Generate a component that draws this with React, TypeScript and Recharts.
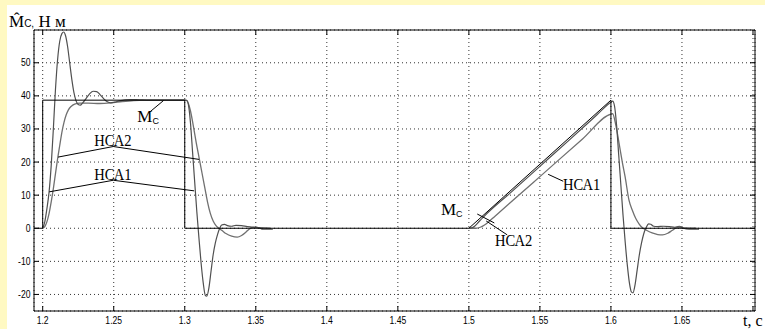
import { ComposedChart, Line, XAxis, YAxis, CartesianGrid, ReferenceLine, ReferenceDot } from "recharts";

// axis ticks
const xTicks = [1.2, 1.25, 1.3, 1.35, 1.4, 1.45, 1.5, 1.55, 1.6, 1.65, 1.7];
const xTickLabels = ["1.2", "1.25", "1.3", "1.35", "1.4", "1.45", "1.5", "1.55", "1.6", "1.65", ""];
const yTicks = [-20, -10, 0, 10, 20, 30, 40, 50];
const yTickLabels = ["-20", "-10", "0", "10", "20", "30", "40", "50"];

// Mc (reference load torque)
const mcT = [1.1939, 1.2, 1.2, 1.3, 1.3, 1.5, 1.6, 1.6, 1.7014];
const mcV = [0, 0, 38.7, 38.7, 0, 0, 38.7, 0, 0];

// НСА1 - step part
const a1T = [1.2, 1.2015, 1.203, 1.2045, 1.206, 1.2075, 1.209, 1.2105, 1.212, 1.2135, 1.2148, 1.216, 1.2175, 1.219, 1.2205, 1.222, 1.2235, 1.225, 1.2265, 1.228, 1.2305, 1.233, 1.2355, 1.238, 1.2405, 1.243, 1.2455, 1.248, 1.2505, 1.254, 1.258, 1.262, 1.268, 1.275, 1.3, 1.3015, 1.3025, 1.304, 1.3055, 1.307, 1.3085, 1.31, 1.3115, 1.313, 1.3145, 1.3155, 1.317, 1.3185, 1.32, 1.3215, 1.323, 1.3246, 1.326, 1.328, 1.33, 1.333, 1.336, 1.34, 1.344, 1.348, 1.352, 1.355, 1.362];
const a1V = [0, 2, 6, 11, 19, 30, 42, 51, 56.5, 58.8, 59.3, 58.3, 55, 50, 45, 41, 38.5, 37.4, 37.2, 37.8, 39.2, 40.6, 41.4, 41.3, 40.3, 39.1, 38.2, 37.9, 38.1, 38.5, 38.8, 38.9, 38.8, 38.7, 38.7, 38.6, 37.5, 32, 23, 14, 5, -3, -10.5, -16.5, -20.3, -20.5, -18, -13, -8, -4.5, -2, 0, 1, 1.2, 0.8, 0.6, 0.9, 0.8, 0.5, 0.3, 0.2, -0.3, -0.3];

// НСА1 - ramp part
const a2T = [1.5, 1.502, 1.504, 1.506, 1.51, 1.53, 1.55, 1.57, 1.59, 1.6, 1.6012, 1.6025, 1.604, 1.6055, 1.607, 1.6085, 1.61, 1.6115, 1.613, 1.6145, 1.6155, 1.617, 1.6185, 1.62, 1.6215, 1.623, 1.6248, 1.6265, 1.628, 1.63, 1.633, 1.637, 1.641, 1.645, 1.648, 1.651, 1.655, 1.662];
const a2V = [0, 0.1, 0.6, 1.5, 3.3, 11, 18.7, 26.4, 34.2, 38.1, 38.4, 37, 31, 22, 13, 4, -4, -11, -16.5, -19.3, -19.5, -17, -12.5, -8, -4.5, -1.8, 0.2, 1.3, 1.2, 0.6, 0.5, 0.6, 0.5, 0.3, 0.6, 0, -0.3, -0.3];

// НСА2 - step part
const b1T = [1.2, 1.2015, 1.203, 1.2045, 1.206, 1.2075, 1.209, 1.2105, 1.212, 1.2135, 1.215, 1.2165, 1.218, 1.22, 1.2225, 1.226, 1.232, 1.24, 1.248, 1.256, 1.264, 1.272, 1.3, 1.301, 1.3025, 1.304, 1.306, 1.308, 1.31, 1.312, 1.314, 1.316, 1.318, 1.32, 1.322, 1.324, 1.326, 1.329, 1.333, 1.337, 1.34, 1.343, 1.3455, 1.348, 1.352, 1.36];
const b1V = [0, 0.5, 2, 4.5, 8, 12, 16.5, 21, 25, 29, 32, 34.2, 35.7, 36.8, 37.5, 37.8, 37.8, 37.7, 37.9, 38.3, 38.6, 38.7, 38.7, 38.7, 37.8, 35.5, 31, 26, 21.5, 17, 12.5, 8, 4.5, 2.2, 0.8, 0, -0.6, -1.6, -2.4, -2.7, -2.2, -1.2, -0.2, 0.3, 0.2, 0];

// НСА2 - ramp part
const b2T = [1.5, 1.505, 1.508, 1.511, 1.514, 1.518, 1.55, 1.58, 1.6, 1.6012, 1.6035, 1.606, 1.608, 1.61, 1.6127, 1.615, 1.6174, 1.62, 1.622, 1.625, 1.629, 1.633, 1.6363, 1.64, 1.643, 1.6455, 1.648, 1.652, 1.66];
const b2V = [0, 0, 0.3, 1, 2, 3.5, 15.6, 27, 34.5, 34.6, 31, 25, 20, 15.5, 8.5, 5.5, 3, 1.2, 0.2, -0.6, -1.4, -1.9, -2, -1.5, -0.7, 0, 0.3, 0.1, 0];

// annotation texts and leader lines (data coordinates)
const labelText = ["НСА2", "НСА1", "Mc", "Mc", "НСА2", "НСА1"];
const labelT = [1.2363, 1.2363, 1.2666, 1.4803, 1.5184, 1.5662];
const labelV = [25.0, 14.7, 32.0, 4.0, -5.5, 11.7];
const leaders = [
  [1.2108, 21.5, 1.2497, 24.7],
  [1.2497, 24.7, 1.3101, 20.8],
  [1.2046, 11.0, 1.2497, 14.5],
  [1.2497, 14.5, 1.3066, 11.3],
  [1.2756, 35.2, 1.2851, 38.6],
  [1.5059, 4.3, 1.5179, 1.6],
  [1.5122, 2.2, 1.527, -2.0],
  [1.5558, 16.3, 1.5664, 14.2],
];

const zip = (t: number[], v: number[]) => t.map((x, i) => ({ t: x, v: v[i] }));
const mcData = zip(mcT, mcV);
const a1Data = zip(a1T, a1V);
const a2Data = zip(a2T, a2V);
const b1Data = zip(b1T, b1V);
const b2Data = zip(b2T, b2V);

const SANS = "Liberation Sans, Arial, sans-serif";
const SERIF = "Liberation Serif, Times New Roman, serif";

function numWidth(s: string) {
  let w = 0;
  for (const c of s) w += c === "." ? 0.278 : c === "-" ? 0.333 : 0.556;
  return w * 10 * 0.86;
}

// eslint-disable-next-line @typescript-eslint/no-explicit-any
type P = any;

function BottomTick({ x, y, index }: P) {
  const label = xTickLabels[index];
  return (
    <g>
      <line x1={x} y1={y} x2={x} y2={y - 5} stroke="#000" />
      {label ? (
        <text x={x} y={y + 12.5} textAnchor="middle" style={{ fontFamily: SANS, fontSize: 10 }} fill="#000"
          textLength={numWidth(label)} lengthAdjust="spacingAndGlyphs">{label}</text>
      ) : null}
    </g>
  );
}

function TopTick({ x, y }: P) {
  return <line x1={x} y1={y} x2={x} y2={y + 5} stroke="#000" />;
}

function LeftTick({ x, y, index }: P) {
  const label = yTickLabels[index];
  return (
    <g>
      <line x1={x} y1={y} x2={x + 5} y2={y} stroke="#000" />
      <text x={x - 3.5} y={y + 3.5} textAnchor="end" style={{ fontFamily: SANS, fontSize: 10 }} fill="#000"
        textLength={numWidth(label)} lengthAdjust="spacingAndGlyphs">{label}</text>
    </g>
  );
}

function RightTick({ x, y }: P) {
  return <line x1={x} y1={y} x2={x - 5} y2={y} stroke="#000" />;
}

function AnnoLabel({ viewBox, text }: P) {
  const x = viewBox.x;
  const y = viewBox.y;
  if (text === "Mc") {
    return (
      <text x={x} y={y} style={{ fontFamily: SERIF, fontSize: 17 }} fill="#000">
        M<tspan style={{ fontFamily: SANS, fontSize: 9 }} dy={1.5}>С</tspan>
      </text>
    );
  }
  return (
    <text x={x} y={y} style={{ fontFamily: SERIF, fontSize: 17 }} fill="#000" textLength={37.4} lengthAdjust="spacingAndGlyphs">
      {text}
    </text>
  );
}

const X_DOMAIN = [1.19388, 1.70141];
const Y_DOMAIN = [-25, 59.9];

export default function App() {
  return (
    <div style={{ position: "absolute", left: 0, top: 0, width: 765, height: 329, background: "#FFF9C2", overflow: "hidden" }}>
      <div style={{ position: "absolute", left: 7, top: 5, right: 0, bottom: 0, background: "#fff" }} />
      <div style={{ position: "absolute", left: 0, top: 0 }}>
        <ComposedChart width={765} height={329} margin={{ top: 29, right: 9, bottom: 0, left: 0 }}>
          <CartesianGrid stroke="#333" strokeDasharray="1 3" />
          <XAxis xAxisId={0} dataKey="t" type="number" domain={X_DOMAIN} ticks={xTicks} allowDataOverflow
            height={18} tickSize={0} tickMargin={0} tickLine={false} interval={0} stroke="#000" tick={BottomTick} />
          <XAxis xAxisId="top" orientation="top" dataKey="t" type="number" domain={X_DOMAIN} ticks={xTicks} allowDataOverflow
            height={1} tickSize={0} tickMargin={0} tickLine={false} interval={0} stroke="#000" tick={TopTick} />
          <YAxis yAxisId={0} type="number" domain={Y_DOMAIN} ticks={yTicks} allowDataOverflow
            width={34} tickSize={0} tickMargin={0} tickLine={false} interval={0} stroke="#000" tick={LeftTick} />
          <YAxis yAxisId="right" orientation="right" type="number" domain={Y_DOMAIN} ticks={yTicks} allowDataOverflow
            width={1} tickSize={0} tickMargin={0} tickLine={false} interval={0} stroke="#000" tick={RightTick} />

          <Line data={b1Data} dataKey="v" type="monotone" stroke="#707070" strokeWidth={1.3} dot={false} isAnimationActive={false} />
          <Line data={b2Data} dataKey="v" type="monotone" stroke="#707070" strokeWidth={1.3} dot={false} isAnimationActive={false} />
          <Line data={a1Data} dataKey="v" type="monotone" stroke="#505050" strokeWidth={1.2} dot={false} isAnimationActive={false} />
          <Line data={a2Data} dataKey="v" type="monotone" stroke="#505050" strokeWidth={1.2} dot={false} isAnimationActive={false} />
          <Line data={mcData} dataKey="v" type="linear" stroke="#000" strokeWidth={1} dot={false} isAnimationActive={false} />

          {leaders.map((s, i) => (
            <ReferenceLine key={`l${i}`} segment={[{ x: s[0], y: s[1] }, { x: s[2], y: s[3] }]} stroke="#000" strokeWidth={1} />
          ))}
          {labelText.map((txt, i) => (
            <ReferenceDot key={`d${i}`} x={labelT[i]} y={labelV[i]} r={0} fill="none" stroke="none"
              label={(p: P) => <AnnoLabel {...p} text={txt} />} />
          ))}
        </ComposedChart>
      </div>
      <svg width={765} height={329} style={{ position: "absolute", left: 0, top: 0, pointerEvents: "none" }}>
        <text x={9} y={27} style={{ fontFamily: SERIF, fontSize: 17 }} fill="#000">
          {"M\u0302"}
          <tspan style={{ fontFamily: SANS, fontSize: 10 }}>С,</tspan>
          <tspan> Н м</tspan>
        </text>
        <text x={743} y={326} style={{ fontFamily: SERIF, fontSize: 16 }} fill="#000">t, с</text>
      </svg>
    </div>
  );
}
